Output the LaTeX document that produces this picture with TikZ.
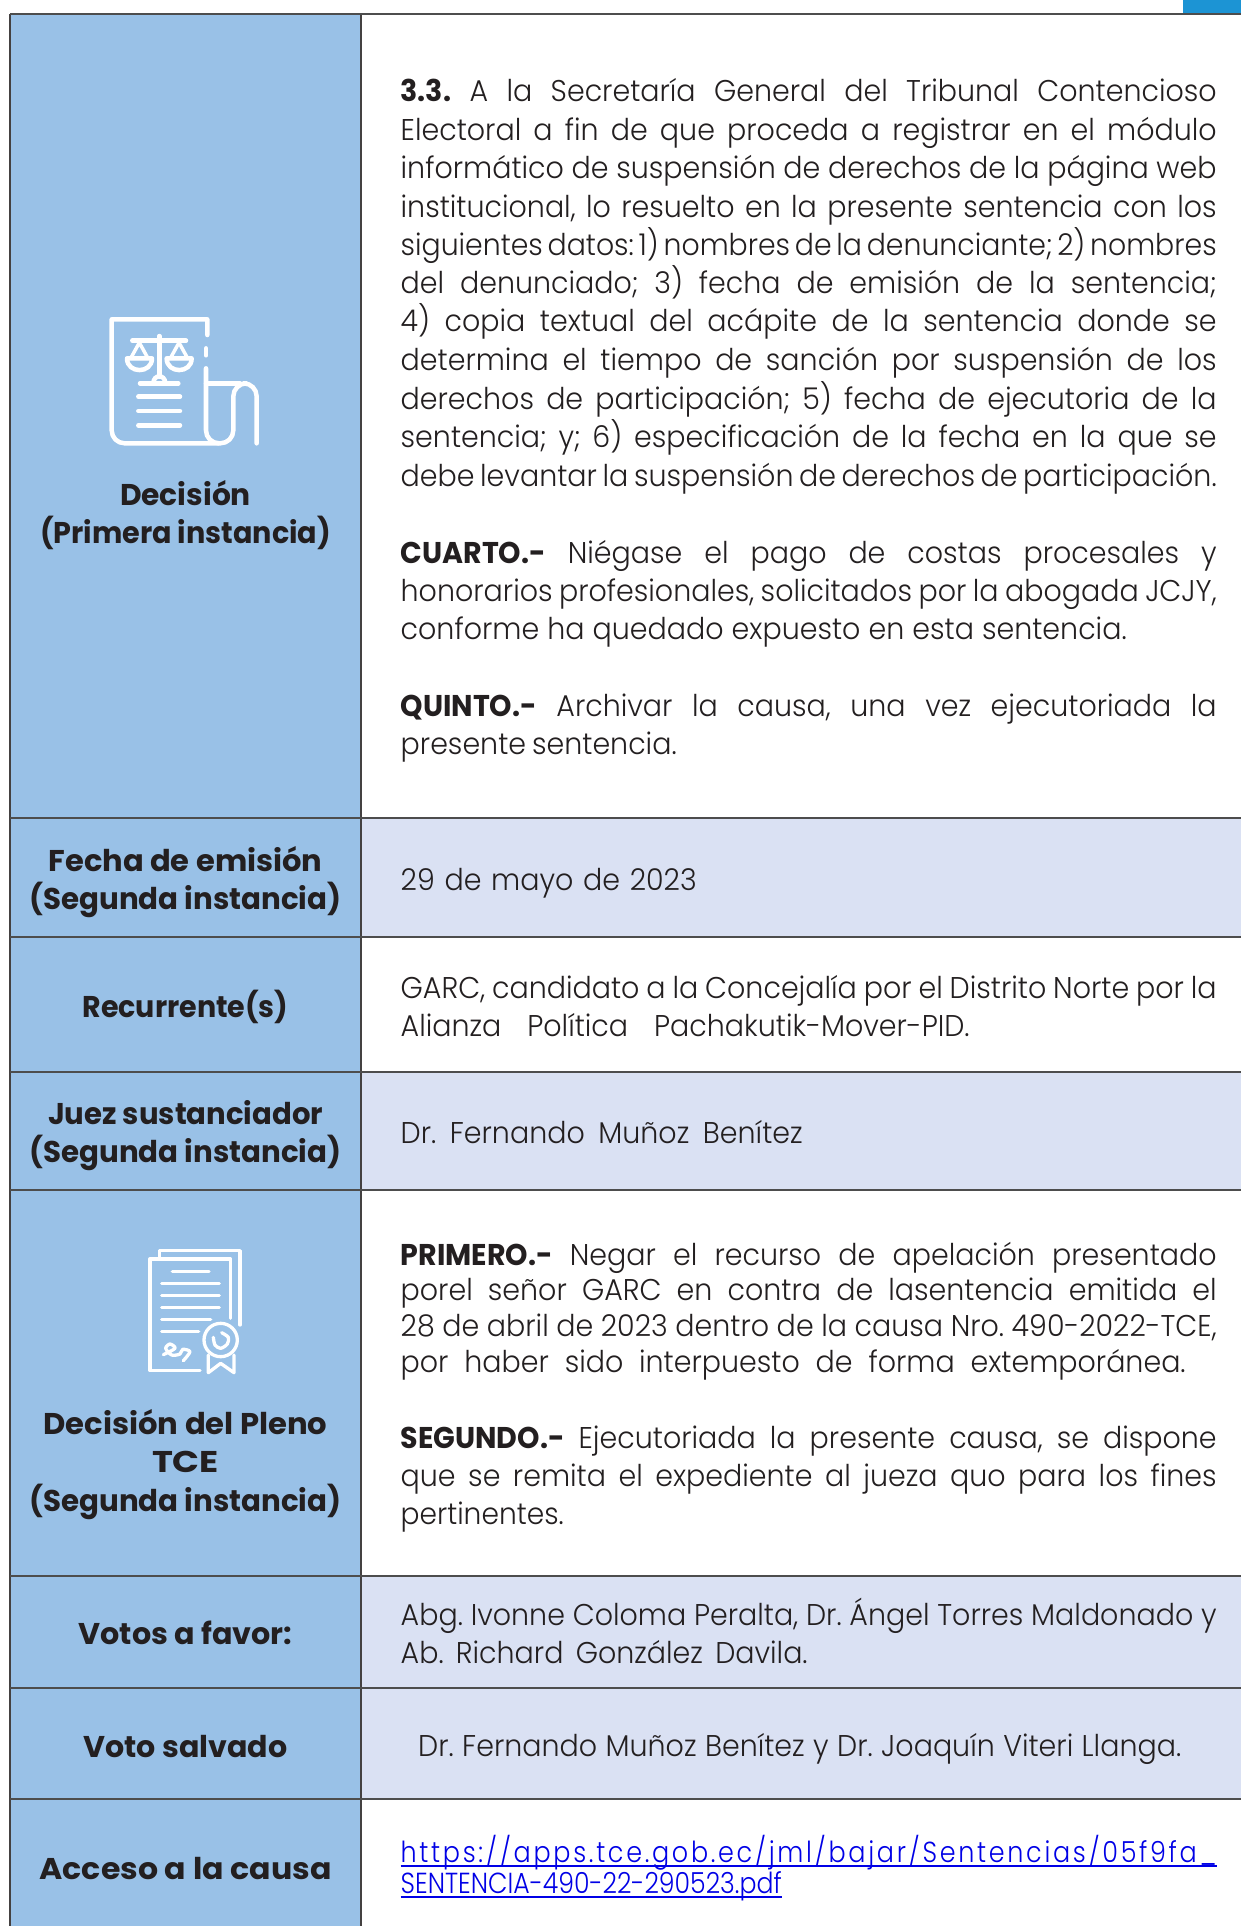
\documentclass[tikz,border=0pt]{standalone}
\usepackage{fontspec}
\setmainfont{Poppins}[FakeStretch=0.95,UprightFont=* Light,BoldFont=* Bold]
\definecolor{lblue}{RGB}{153,193,231}
\definecolor{rowb}{RGB}{218,225,243}
\definecolor{tabline}{RGB}{77,77,77}
\definecolor{topb}{RGB}{28,148,212}
\definecolor{ink}{RGB}{35,31,32}
\definecolor{linkb}{RGB}{0,0,230}
\newsavebox\fb
\newcounter{tn}
\newcommand\fitj[2]{\begingroup\spaceskip=.16em\relax\sbox\fb{#2}%
  \ifdim\wd\fb>#1\relax\pgfmathsetmacro\sx{#1/\the\wd\fb}\scalebox{\sx}[1]{\usebox\fb}%
  \else\hbox to #1{\spaceskip=.16em plus 1fil\relax #2}\fi\endgroup}
\newcommand\fits[2]{\begingroup\sbox\fb{#2}\pgfmathsetmacro\sx{#1/\the\wd\fb}\scalebox{\sx}[1]{\usebox\fb}\endgroup}
\newcommand\tline[4][400.5]{\stepcounter{tn}\pgfmathsetmacro\by{(#2+9)*1.2283}%
  \node[bodytext] (ln\thetn) at (#1,\by) {\fitj{#3pt}{#4}};}
\newcommand\lab[3]{\stepcounter{tn}\pgfmathsetmacro\by{(#1+9.5)*1.2283}%
  \node[labtext] (lb\thetn) at (185.5,\by) {\fits{#2pt}{\bfseries #3}};}
\tikzset{
  bodytext/.style={anchor=base west,inner sep=0pt,text=ink,font=\fontsize{30}{34}\selectfont\frenchspacing},
  labtext/.style={anchor=base,inner sep=0pt,text=ink,font=\fontsize{30}{34}\selectfont},
  linktext/.style={anchor=base west,inner sep=0pt,text=linkb,font=\fontsize{29}{34}\selectfont},
  icon/.style={draw=white,line cap=round,line join=round,fill=none},
  rowline/.style={draw=tabline,line width=2pt},
  colline/.style={draw=ink!85,line width=1.2pt}
}
\begin{document}
\begin{tikzpicture}[x=1pt,y=-1pt]
\useasboundingbox (0,0) rectangle (1241,1926);
\fill[white] (0,0) rectangle (1241,1926);
\fill[topb] (1183,0) rectangle (1241,14);
\fill[lblue] (10,14) rectangle (361,1926);
\fill[rowb] (361,818) rectangle (1241,937);
\fill[rowb] (361,1072) rectangle (1241,1190);
\fill[rowb] (361,1576) rectangle (1241,1800);
\coordinate (tl) at (10,14); \coordinate (bl) at (10,1926);
\coordinate (tm) at (361,14); \coordinate (bm) at (361,1926);
\draw[colline] (tl) -- (bl);
\draw[colline] (tm) -- (bm);
\foreach \yy in {14,818,937,1072,1190,1576,1688,1799}{\draw[rowline] (10,\yy) -- (1241,\yy);}
% icon 1
\begin{scope}[shift={(0,280)},x=1pt/3,y=-1pt/3]
\draw[icon,line width=4.5pt] (622,165) -- (622,118) -- (335,118) [rounded corners=13pt] -- (335,490) -- (655,490);
\draw[icon,line width=4.5pt] (618,205) -- (618,226);
\draw[icon,line width=4.5pt,rounded corners=13pt] (618,265) -- (618,490) -- (700,490) -- (700,310) -- (770,310) -- (770,490);
\draw[icon,line width=4.5pt] (618,310) -- (720,310);
\draw[icon,line width=4.5pt] (478,168) -- (478,290);
\draw[icon,line width=4.5pt] (397,182) -- (558,182);
\draw[icon,line width=3.5pt] (418,188) -- (392,235) -- (444,235) -- cycle;
\draw[icon,line width=3.5pt] (537,188) -- (511,235) -- (563,235) -- cycle;
\draw[icon,line width=4.5pt] (381,235) .. controls (381,282) and (456,282) .. (456,235) -- cycle;
\draw[icon,line width=4.5pt] (500,235) .. controls (500,282) and (575,282) .. (575,235) -- cycle;
\draw[icon,line width=4.5pt] (460,310) .. controls (460,282) and (496,282) .. (496,310);
\draw[icon,line width=4.5pt] (420,310) -- (535,310);
\draw[icon,line width=4.5pt] (415,350) -- (540,350);
\draw[icon,line width=4.5pt] (415,393) -- (540,393);
\draw[icon,line width=4.5pt] (415,436) -- (540,436);
\end{scope}
% icon 2
\begin{scope}[shift={(100,1220)},x=1pt/3,y=-1pt/3]
\draw[icon,line width=3.3pt] (178,115) -- (178,92) -- (420,92) -- (420,315);
\draw[icon,line width=3.3pt] (300,452) -- (150,452) -- (150,117) -- (392,117) -- (392,295);
\draw[icon,line width=3.3pt] (217,155) -- (327,155);
\draw[icon,line width=3.3pt] (185,190) -- (358,190);
\draw[icon,line width=3.3pt] (185,226) -- (358,226);
\draw[icon,line width=3.3pt] (185,262) -- (358,262);
\draw[icon,line width=3.3pt] (185,298) -- (332,298);
\draw[icon,line width=3.3pt] (185,334) -- (296,334);
\draw[icon,line width=3.3pt] plot[smooth] coordinates {(190,404) (225,385) (210,372) (197,385) (215,405) (240,402) (248,388) (270,395) (250,422)};
\draw[icon,line width=3.3pt] (362,360) ellipse [x radius=50,y radius=50];
\draw[icon,line width=3.3pt] plot[smooth] coordinates {(340,352) (345,375) (362,385) (382,372) (385,352) (365,338)};
\draw[icon,line width=3.3pt] (325,405) -- (325,458) -- (362,430) -- (402,458) -- (402,405);
\end{scope}
% left labels
\lab{402}{131}{Decisión}
\lab{433}{291}{(Primera instancia)}
\lab{700}{274}{Fecha de emisión}
\lab{731}{312}{(Segunda instancia)}
\lab{819}{206}{Recurrente(s)}
\lab{906}{275}{Juez sustanciador}
\lab{937}{312}{(Segunda instancia)}
\lab{1158}{284}{Decisión del Pleno}
\lab{1189}{67}{TCE}
\lab{1221}{312}{(Segunda instancia)}
\lab{1329}{214}{Votos a favor:}
\lab{1421}{204}{Voto salvado}
\lab{1521}{292}{Acceso a la causa}
% body
\tline{74}{816}{\textbf{3.3.} A la Secretaría General del Tribunal Contencioso}
\tline{105}{816}{Electoral a fin de que proceda a registrar en el módulo}
\tline{136}{816}{informático de suspensión de derechos de la página web}
\tline{168}{816}{institucional, lo resuelto en la presente sentencia con los}
\tline{199}{816}{siguientes datos: 1) nombres de la denunciante; 2) nombres}
\tline{230}{816}{del denunciado; 3) fecha de emisión de la sentencia;}
\tline{261}{816}{4) copia textual del acápite de la sentencia donde se}
\tline{293}{816}{determina el tiempo de sanción por suspensión de los}
\tline{324}{816}{derechos de participación; 5) fecha de ejecutoria de la}
\tline{355}{816}{sentencia; y; 6) especificación de la fecha en la que se}
\tline{387}{816}{debe levantar la suspensión de derechos de participación.}
\tline{450}{816}{\textbf{CUARTO.-} Niégase el pago de costas procesales y}
\tline{481}{816}{honorarios profesionales, solicitados por la abogada JCJY,}
\tline{512}{726}{conforme ha quedado expuesto en esta sentencia.}
\tline{574}{816}{\textbf{QUINTO.-} Archivar la causa, una vez ejecutoriada la}
\tline{605}{276}{presente sentencia.}
\tline{716}{296}{29 de mayo de 2023}
\tline{804}{816}{GARC, candidato a la Concejalía por el Distrito Norte por la}
\tline{835}{569}{Alianza Política Pachakutik-Mover-PID.}
\tline{922}{402}{Dr. Fernando Muñoz Benítez}
\tline{1021}{816}{\textbf{PRIMERO.-} Negar el recurso de apelación presentado}
\tline{1050}{816}{porel señor GARC en contra de lasentencia emitida el}
\tline{1079}{816}{28 de abril de 2023 dentro de la causa Nro. 490-2022-TCE,}
\tline{1108}{785}{por haber sido interpuesto de forma extemporánea.}
\tline{1170}{816}{\textbf{SEGUNDO.-} Ejecutoriada la presente causa, se dispone}
\tline{1201}{816}{que se remita el expediente al jueza quo para los fines}
\tline{1232}{163}{pertinentes.}
\tline{1314}{816}{Abg. Ivonne Coloma Peralta, Dr. Ángel Torres Maldonado y}
\tline{1345}{407}{Ab. Richard González Davila.}
\tline[418]{1421}{763}{Dr. Fernando Muñoz Benítez y Dr. Joaquín Viteri Llanga.}
% link
\node[linktext] (url1) at (400.5,1862) {\rlap{\rule[-5pt]{816pt}{1.6pt}}\fits{816pt}{\addfontfeature{LetterSpace=10}https://apps.tce.gob.ec/jml/bajar/Sentencias/05f9fa\_}};
\node[linktext] (url2) at (400.5,1893) {\rlap{\rule[-5pt]{381pt}{1.6pt}}\fits{381pt}{SENTENCIA-490-22-290523.pdf}};
\end{tikzpicture}
\end{document}
